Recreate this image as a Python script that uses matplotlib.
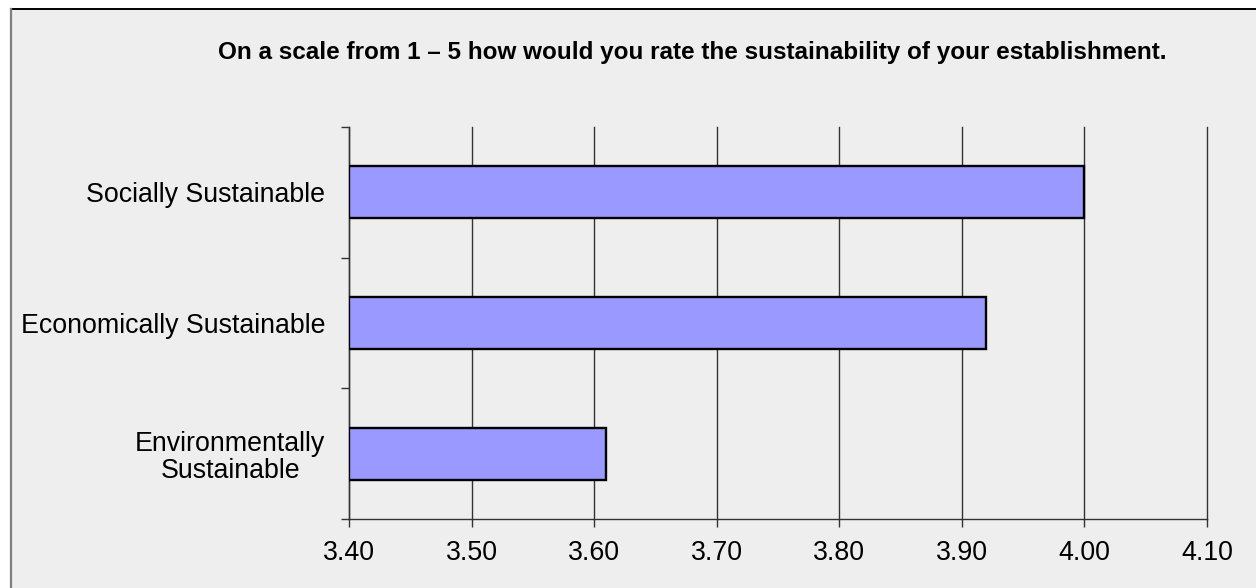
import matplotlib
matplotlib.use("Agg")
import matplotlib.pyplot as plt
from matplotlib.patches import Rectangle
from matplotlib.lines import Line2D

# Survey results: mean self-rating (1-5 scale)
categories = ["Socially Sustainable", "Economically Sustainable", "Environmentally\nSustainable"]
ratings = [4.00, 3.92, 3.61]
x_ticks = [3.40, 3.50, 3.60, 3.70, 3.80, 3.90, 4.00, 4.10]
title = "On a scale from 1 \u2013 5 how would you rate the sustainability of your establishment."

plt.rcParams["font.family"] = ["Liberation Sans", "DejaVu Sans"]

W, H = 1256, 588
fig = plt.figure(figsize=(W / 100, H / 100), dpi=100)
fig.patch.set_facecolor("white")
bg = "#eeeeee"

# chart panel, running off the right and bottom edges of the canvas
x0, y0 = 11 / W, 1 - 9 / H
fig.patches.append(Rectangle((x0, -0.05), 1.1 - x0, y0 + 0.05,
                             transform=fig.transFigure, facecolor=bg,
                             edgecolor="none", zorder=-2))
fig.lines.append(Line2D([x0, 1.05], [y0, y0], transform=fig.transFigure,
                        color="black", linewidth=1.4, zorder=-1))
fig.lines.append(Line2D([x0, x0], [-0.05, y0], transform=fig.transFigure,
                        color="#7f7f7f", linewidth=1.6, zorder=-1))

ax = fig.add_axes([349 / W, 1 - 519 / H, (1207 - 349) / W, (519 - 127) / H])
ax.set_facecolor(bg)

xmin, xmax = x_ticks[0], x_ticks[-1]
ypos = list(range(len(categories)))
ax.barh(ypos, [r - xmin for r in ratings], left=xmin, height=0.4,
        color="#9999ff", edgecolor="black", linewidth=1.7, zorder=3)

ax.set_xlim(xmin, xmax)
ax.set_ylim(len(categories) - 0.5, -0.5)

ax.set_xticks(x_ticks)
ax.set_xticklabels([f"{t:.2f}" for t in x_ticks])
ax.grid(axis="x", color="#333333", linewidth=1.0, zorder=1)
for gl in ax.get_xgridlines():
    gl.set_clip_on(False)

ax.set_yticks(ypos)
ax.set_yticklabels(categories, multialignment="center", linespacing=1.08)
ax.set_yticks([i - 0.5 for i in range(len(categories) + 1)], minor=True)

ax.tick_params(axis="y", which="major", length=0, pad=17, labelsize=19.3)
ax.tick_params(axis="y", which="minor", length=8 * 0.72, width=1.0, color="#333333")
ax.tick_params(axis="x", which="major", length=8 * 0.72, width=1.0, color="#333333",
               pad=9, labelsize=19.3)

for side in ("top", "right"):
    ax.spines[side].set_visible(False)
for side in ("left", "bottom"):
    ax.spines[side].set_color("#333333")
    ax.spines[side].set_linewidth(1.0)

fig.text(692 / W, 1 - 52 / H, title, ha="center", va="center",
         fontsize=17.5, fontweight="bold")

fig.savefig("out.png", dpi=100, facecolor="white")
